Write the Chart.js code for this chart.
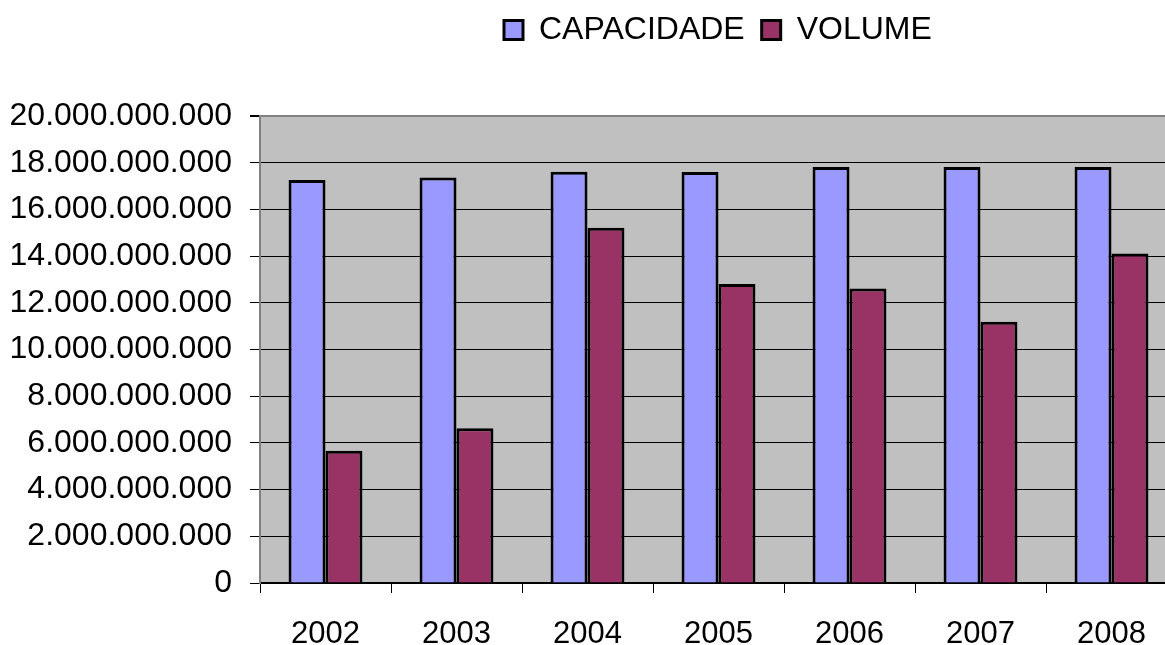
<!DOCTYPE html>
<html>
<head>
<meta charset="utf-8">
<script src="https://cdn.jsdelivr.net/npm/chart.js@4.4.1/dist/chart.umd.min.js"></script>
<style>
  html, body { margin: 0; padding: 0; background: #fff; overflow: hidden; }
  #wrap { position: absolute; left: 0; top: 0; width: 1180px; height: 645px; }
</style>
</head>
<body>
<div id="wrap">
  <canvas id="chart" width="1180" height="645"></canvas>
</div>
<script>
// Data
const years = ['2002', '2003', '2004', '2005', '2006', '2007', '2008'];
const capacidade = [17.26e9, 17.37e9, 17.61e9, 17.60e9, 17.82e9, 17.82e9, 17.82e9];
const volume = [5.66e9, 6.63e9, 15.21e9, 12.81e9, 12.61e9, 11.19e9, 14.11e9];
const yTicksMax = 20e9;
const yTicksStep = 2e9;

const FONT = '"Liberation Sans", Arial, sans-serif';

// thousands separator with dots (pt-BR style)
function fmt(v) {
  return String(Math.round(v)).replace(/\B(?=(\d{3})+(?!\d))/g, '.');
}

// grey plot background
const plotBg = {
  id: 'plotBg',
  beforeDraw(chart) {
    const { ctx, chartArea: a } = chart;
    ctx.save();
    ctx.fillStyle = '#C0C0C0';
    ctx.fillRect(a.left, a.top, a.right - a.left, a.bottom - a.top);
    ctx.restore();
  }
};

// move the legend to where Excel put it (centered over plot area)
const legendPos = {
  id: 'legendPos',
  afterUpdate(chart) {
    const lg = chart.legend;
    if (!lg) return;
    const h = lg.bottom - lg.top;
    lg.left = 487;
    lg.right = 1180;
    lg.top = -3;
    lg.bottom = lg.top + h;
  }
};

new Chart(document.getElementById('chart'), {
  type: 'bar',
  data: {
    labels: years,
    datasets: [
      {
        label: 'CAPACIDADE',
        data: capacidade,
        backgroundColor: '#9999FF',
        borderColor: '#000',
        borderWidth: 3
      },
      {
        label: 'VOLUME',
        data: volume,
        backgroundColor: '#993366',
        borderColor: '#000',
        borderWidth: 3
      }
    ]
  },
  options: {
    responsive: false,
    animation: false,
    categoryPercentage: 0.564,
    barPercentage: 1,
    layout: { padding: { top: 57, right: 3, left: 0, bottom: 0 } },
    plugins: {
      legend: {
        position: 'top',
        align: 'start',
        labels: {
          color: '#000',
          font: { family: FONT, size: 32 },
          boxWidth: 19,
          boxHeight: 19,
          padding: 17
        }
      },
      tooltip: { enabled: false }
    },
    scales: {
      x: {
        grid: {
          offset: true,
          drawOnChartArea: false,
          color: '#000',
          tickColor: '#000',
          tickLength: 10
        },
        border: { color: '#000', width: 2 },
        ticks: {
          color: '#000',
          font: { family: FONT, size: 31 },
          padding: 23,
          maxRotation: 0
        },
        afterFit(scale) { scale.height = 62; }
      },
      y: {
        min: 0,
        max: yTicksMax,
        ticks: {
          stepSize: yTicksStep,
          color: '#000',
          font: { family: FONT, size: 32 },
          padding: 18,
          callback: v => fmt(v)
        },
        grid: {
          color: c => (c.tick && c.tick.value === yTicksMax ? '#808080' : '#000'),
          lineWidth: c => (c.tick && c.tick.value === yTicksMax ? 2 : 1),
          tickColor: '#000',
          tickLength: 10
        },
        border: { color: '#808080', width: 2 },
        afterFit(scale) { scale.width = 260; }
      }
    }
  },
  plugins: [plotBg, legendPos]
});
</script>
</body>
</html>
